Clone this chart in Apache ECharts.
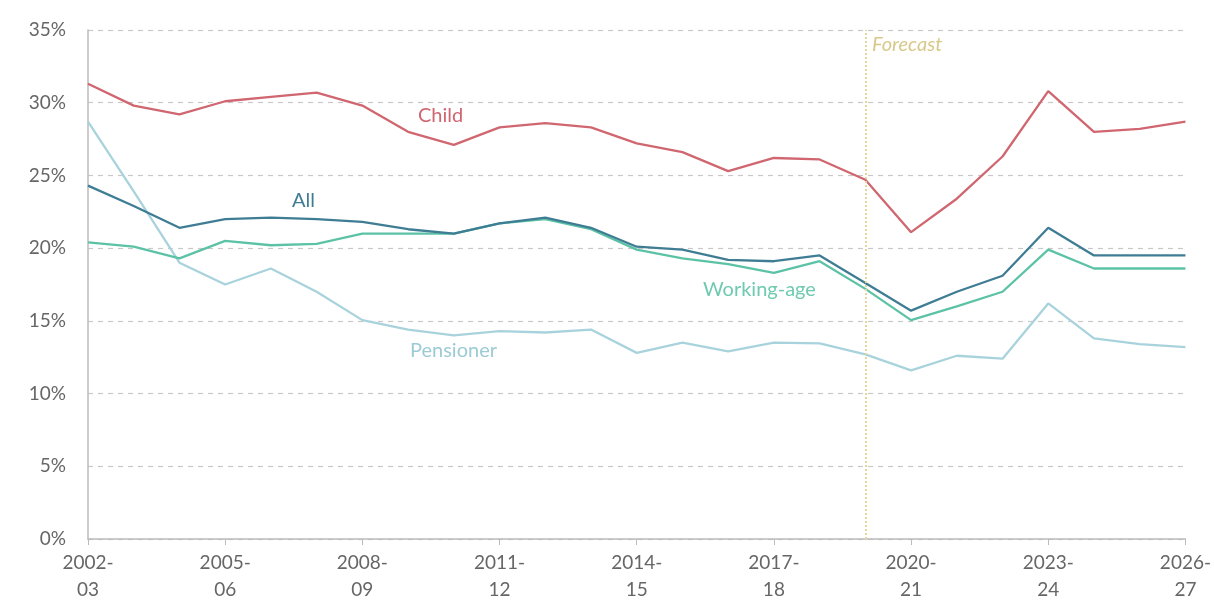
<!DOCTYPE html>
<html>
<head>
<meta charset="utf-8">
<script src="https://cdn.jsdelivr.net/npm/echarts@6/dist/echarts.min.js"></script>
<style>
  html, body { margin: 0; padding: 0; background: #fff; }
  #chart { width: 1214px; height: 603px; }
</style>
</head>
<body>
<div id="chart"></div>
<script>
var years = ['2002-03', '2003-04', '2004-05', '2005-06', '2006-07', '2007-08', '2008-09',
  '2009-10', '2010-11', '2011-12', '2012-13', '2013-14', '2014-15', '2015-16', '2016-17',
  '2017-18', '2018-19', '2019-20', '2020-21', '2021-22', '2022-23', '2023-24', '2024-25',
  '2025-26', '2026-27'];

var child = [31.3, 29.8, 29.2, 30.1, 30.4, 30.7, 29.8, 28.0, 27.1, 28.3, 28.6, 28.3, 27.2,
  26.6, 25.3, 26.2, 26.1, 24.7, 21.1, 23.4, 26.3, 30.8, 28.0, 28.2, 28.7];
var all = [24.3, 22.9, 21.4, 22.0, 22.1, 22.0, 21.8, 21.3, 21.0, 21.7, 22.1, 21.4, 20.1,
  19.9, 19.2, 19.1, 19.5, 17.6, 15.7, 17.0, 18.1, 21.4, 19.5, 19.5, 19.5];
var workingAge = [20.4, 20.1, 19.3, 20.5, 20.2, 20.3, 21.0, 21.0, 21.0, 21.7, 22.0, 21.3, 19.9,
  19.3, 18.9, 18.3, 19.1, 17.2, 15.05, 16.0, 17.0, 19.9, 18.6, 18.6, 18.6];
var pensioner = [28.7, 23.9, 19.0, 17.5, 18.6, 17.0, 15.05, 14.4, 14.0, 14.3, 14.2, 14.4, 12.8,
  13.5, 12.9, 13.5, 13.45, 12.7, 11.6, 12.6, 12.4, 16.2, 13.8, 13.4, 13.2];

var forecastStart = '2019-20';

var chart = echarts.init(document.getElementById('chart'));

function lineSeries(name, data, color) {
  return {
    name: name,
    type: 'line',
    data: data,
    symbol: 'none',
    lineStyle: { color: color, width: 2.3 },
    itemStyle: { color: color }
  };
}

var labelFont = 'Lato, "Open Sans", sans-serif';

var option = {
  animation: false,
  textStyle: { fontFamily: labelFont },
  grid: { left: 88, right: 28, top: 30, bottom: 61 },
  xAxis: {
    type: 'category',
    data: years,
    boundaryGap: false,
    axisLine: { lineStyle: { color: '#bbbbbb', width: 1.5 } },
    axisTick: { interval: 2, length: 6, lineStyle: { color: '#bbbbbb' } },
    axisLabel: {
      interval: 2,
      color: '#666666',
      fontSize: 19,
      lineHeight: 27,
      margin: 10,
      formatter: function (v) { return v.replace('-', '-\n'); }
    }
  },
  yAxis: {
    type: 'value',
    min: 0,
    max: 35,
    interval: 5,
    axisLine: { show: true, lineStyle: { color: '#bbbbbb', width: 1.5 } },
    axisTick: { show: false },
    axisLabel: { color: '#666666', fontSize: 19, margin: 22, formatter: '{value}%' },
    splitLine: { lineStyle: { color: '#c8c8c8', type: [5, 5], width: 1.2 } }
  },
  series: [
    lineSeries('Pensioner', pensioner, '#a9d3dc'),
    lineSeries('Working-age', workingAge, '#5cc2a6'),
    lineSeries('All', all, '#3f7d94'),
    Object.assign(lineSeries('Child', child, '#d0666f'), {
      markLine: {
        symbol: 'none',
        silent: true,
        label: { show: false },
        lineStyle: { color: '#e3d59e', type: 'dotted', width: 2 },
        data: [{ xAxis: forecastStart }]
      }
    })
  ],
  graphic: [
    { type: 'text', left: 292, top: 191, style: { text: 'All', fill: '#3f7d94', font: '20px ' + labelFont } },
    { type: 'text', left: 418, top: 106, style: { text: 'Child', fill: '#d0666f', font: '20px ' + labelFont } },
    { type: 'text', left: 703, top: 280, style: { text: 'Working-age', fill: '#6fcab0', font: '20px ' + labelFont } },
    { type: 'text', left: 410, top: 341, style: { text: 'Pensioner', fill: '#9ccbd6', font: '20px ' + labelFont } },
    { type: 'text', left: 872, top: 35, style: { text: 'Forecast', fill: '#d8c98a', font: 'italic 20px ' + labelFont } }
  ]
};

chart.setOption(option);
</script>
</body>
</html>
